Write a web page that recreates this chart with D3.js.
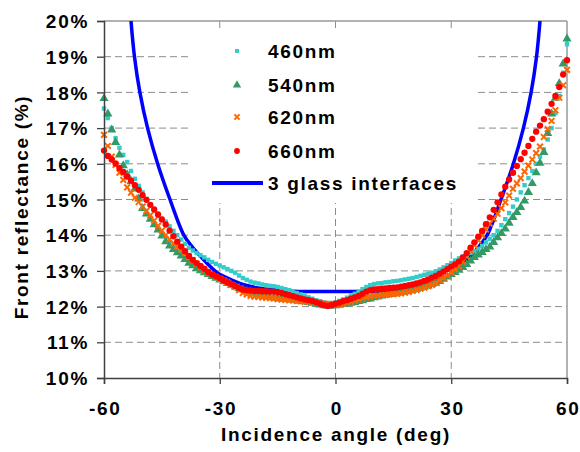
<!DOCTYPE html>
<html><head><meta charset="utf-8">
<script src="https://cdn.jsdelivr.net/npm/d3@7"></script>
<style>
html,body{margin:0;padding:0;background:#fff;}
text{font-family:"Liberation Sans",Arial,sans-serif;font-weight:bold;fill:#000;}
</style></head>
<body><svg id="c" width="580" height="452"></svg>
<script>
// ---- data ----
const angles = d3.range(-60, 61, 1); // measurement angles (deg), one per degree
const s460 = [17.55,17.28,17.00,16.72,16.45,16.25,16.05,15.80,15.58,15.38,15.20,15.02,14.85,14.70,14.55,14.46,14.38,14.25,14.12,14.00,13.88,13.76,13.65,13.57,13.50,13.44,13.38,13.31,13.25,13.20,13.15,13.10,13.05,13.00,12.95,12.87,12.80,12.75,12.70,12.67,12.65,12.62,12.60,12.58,12.57,12.55,12.52,12.49,12.46,12.42,12.38,12.34,12.30,12.26,12.22,12.18,12.15,12.12,12.10,12.10,12.12,12.16,12.20,12.25,12.30,12.36,12.42,12.49,12.55,12.60,12.63,12.65,12.66,12.68,12.69,12.71,12.72,12.74,12.76,12.78,12.80,12.83,12.86,12.89,12.92,12.95,12.99,13.04,13.10,13.16,13.22,13.29,13.35,13.40,13.45,13.50,13.55,13.62,13.70,13.80,13.90,14.00,14.12,14.28,14.45,14.62,14.80,15.00,15.20,15.40,15.60,15.80,16.00,16.20,16.40,16.68,17.00,17.42,17.90,18.55,19.35];
const s540 = [17.83,17.40,16.95,16.60,16.25,15.95,15.70,15.50,15.30,15.02,14.75,14.60,14.45,14.30,14.15,13.98,13.82,13.70,13.60,13.51,13.42,13.32,13.22,13.15,13.07,13.01,12.95,12.90,12.85,12.80,12.75,12.70,12.65,12.60,12.55,12.51,12.47,12.43,12.40,12.37,12.35,12.32,12.30,12.27,12.25,12.23,12.22,12.21,12.20,12.18,12.17,12.15,12.14,12.12,12.10,12.07,12.05,12.03,12.02,12.02,12.03,12.04,12.06,12.08,12.10,12.12,12.15,12.17,12.20,12.22,12.25,12.27,12.30,12.32,12.34,12.36,12.38,12.40,12.42,12.44,12.47,12.49,12.52,12.55,12.58,12.62,12.66,12.71,12.77,12.83,12.90,12.96,13.02,13.10,13.18,13.28,13.38,13.45,13.52,13.60,13.67,13.80,13.93,14.05,14.18,14.34,14.50,14.64,14.78,14.96,15.20,15.45,15.75,16.02,16.32,16.85,17.40,17.84,18.25,18.80,19.50];
const s620 = [16.81,16.50,16.20,15.97,15.75,15.55,15.34,15.19,15.05,14.93,14.80,14.68,14.56,14.41,14.26,14.13,14.00,13.88,13.77,13.68,13.60,13.50,13.40,13.30,13.20,13.11,13.02,12.95,12.88,12.83,12.78,12.73,12.68,12.61,12.55,12.46,12.38,12.34,12.30,12.28,12.27,12.26,12.25,12.24,12.23,12.21,12.20,12.19,12.18,12.17,12.16,12.15,12.14,12.13,12.12,12.11,12.10,12.08,12.07,12.06,12.05,12.06,12.08,12.11,12.14,12.17,12.20,12.23,12.26,12.28,12.30,12.31,12.32,12.33,12.34,12.35,12.36,12.37,12.39,12.41,12.44,12.47,12.50,12.53,12.57,12.61,12.66,12.73,12.80,12.87,12.95,13.04,13.13,13.26,13.40,13.56,13.72,13.86,14.00,14.16,14.32,14.46,14.60,14.76,14.92,15.11,15.30,15.45,15.60,15.78,15.95,16.12,16.30,16.48,16.75,16.97,17.20,17.50,17.85,18.20,18.63];
const s660 = [16.37,16.22,16.12,16.01,15.88,15.77,15.64,15.53,15.40,15.27,15.12,14.99,14.85,14.72,14.58,14.44,14.30,14.13,13.97,13.82,13.68,13.55,13.42,13.31,13.22,13.14,13.06,12.97,12.90,12.85,12.80,12.73,12.68,12.63,12.58,12.52,12.48,12.46,12.45,12.44,12.44,12.43,12.43,12.42,12.42,12.40,12.38,12.35,12.32,12.29,12.26,12.23,12.20,12.18,12.16,12.12,12.08,12.04,12.02,12.04,12.08,12.11,12.15,12.18,12.22,12.26,12.30,12.36,12.42,12.46,12.48,12.49,12.50,12.51,12.52,12.53,12.54,12.56,12.58,12.60,12.62,12.65,12.68,12.72,12.76,12.81,12.86,12.92,12.98,13.05,13.12,13.18,13.26,13.38,13.50,13.65,13.80,13.96,14.12,14.31,14.50,14.71,14.92,15.14,15.36,15.56,15.75,15.94,16.13,16.31,16.50,16.70,16.90,17.07,17.25,17.46,17.68,17.90,18.15,18.50,18.90];
const glassAngle = [-53.0,-52.1,-50.7,-48.7,-46.1,-42.9,-39.3,-37.2,-35.1,-30.8,-28,-24,-20,-15,-11,0,11,15,20,24,28,30.8,35.1,37.2,39.3,42.9,46.1,48.7,50.7,52.1,53.0];
const glassValue = [20,19,18,17,16,15,14,13.68,13.42,12.96,12.8,12.62,12.52,12.46,12.43,12.42,12.43,12.46,12.52,12.62,12.8,12.96,13.42,13.68,14,15,16,17,18,19,20];
const seriesNames = ["460nm","540nm","620nm","660nm"];
const lineName = "3 glass interfaces";
const xTicks = [-60,-30,0,30,60];
const yTicks = [10,11,12,13,14,15,16,17,18,19,20];

// ---- chart ----
const svg = d3.select("#c");
const x = d3.scaleLinear().domain([-60,60]).range([104,567]);
const y = d3.scaleLinear().domain([10,20]).range([378,21]);
const LS = "1.7px";

// grid
const grid = svg.append("g");
grid.selectAll("line.h").data(yTicks.filter(d=>d>10 && d<20)).join("line")
  .attr("x1",x(-60)).attr("x2",x(60)).attr("y1",d=>y(d)).attr("y2",d=>y(d))
  .attr("stroke","#8c8c8c").attr("stroke-width",1).attr("stroke-dasharray","7,4");
grid.selectAll("line.v").data(xTicks.filter(d=>d>-60 && d<60)).join("line")
  .attr("y1",y(20)).attr("y2",y(10)).attr("x1",d=>x(d)).attr("x2",d=>x(d))
  .attr("stroke","#8c8c8c").attr("stroke-width",1).attr("stroke-dasharray","7,4");

// legend background (covers grid)
svg.append("rect").attr("x",190).attr("y",30).attr("width",288).attr("height",173).attr("fill","#fff");

// top/right border
svg.append("line").attr("x1",x(-60)).attr("x2",x(60)).attr("y1",y(20)).attr("y2",y(20)).attr("stroke","#999").attr("stroke-width",1.5);
svg.append("line").attr("x1",x(60)).attr("x2",x(60)).attr("y1",y(20)).attr("y2",y(10)).attr("stroke","#999").attr("stroke-width",1.5);

svg.append("defs").append("clipPath").attr("id","pc").append("rect")
  .attr("x",x(-60)-6).attr("y",y(20)).attr("width",x(60)-x(-60)+12).attr("height",y(10)-y(20));
const plot = svg.append("g").attr("clip-path","url(#pc)");

// theory line
plot.append("path").datum(glassAngle.map((a,i)=>[a,glassValue[i]]))
  .attr("fill","none").attr("stroke","#0000ff").attr("stroke-width",3.5)
  .attr("d", d3.line().x(d=>x(d[0])).y(d=>y(d[1])).curve(d3.curveCatmullRom.alpha(0.5)));

const colors = ["#33cccc","#339966","#ff6600","#ff0000"];
const sym = [d3.symbolSquare, d3.symbolTriangle, d3.symbolCross, d3.symbolCircle];
function marker(g, i, sc){
  if(i===2){
    const s = 2.6*sc;
    g.append("path").attr("d",`M${-s},${-s}L${s},${s}M${-s},${s}L${s},${-s}`)
      .attr("stroke",colors[i]).attr("stroke-width",2).attr("fill","none");
  } else {
    const size = [16,30,0,26][i]*sc*sc;
    g.append("path").attr("d", d3.symbol().type(sym[i]).size(size)()).attr("fill",colors[i]);
  }
}
[s460,s540,s620,s660].forEach((s,i)=>{
  const g = plot.append("g");
  s.forEach((v,j)=>{
    const m = g.append("g").attr("transform",`translate(${x(angles[j])},${y(v)})`);
    marker(m,i,1.1);
  });
});

// axes
const yAxis = svg.append("g").attr("transform",`translate(${x(-60)},0)`)
  .call(d3.axisLeft(y).tickValues(yTicks).tickSize(7).tickPadding(7).tickFormat(d=>d+"%"));
yAxis.select(".domain").attr("stroke","#404040").attr("stroke-width",1.5);
yAxis.selectAll(".tick line").attr("stroke","#404040").attr("stroke-width",1.3);
yAxis.selectAll("text").attr("font-size",19).attr("font-family","Liberation Sans, Arial, sans-serif")
  .attr("font-weight","bold").attr("fill","#000").style("letter-spacing",LS).attr("dx","-1").attr("dy","0.35em").attr("y",0);

const xAxis = svg.append("g").attr("transform",`translate(0,${y(10)})`)
  .call(d3.axisBottom(x).tickValues(xTicks).tickSize(6).tickPadding(18).tickFormat(d=>d));
xAxis.select(".domain").attr("stroke","#404040").attr("stroke-width",1.5);
xAxis.selectAll(".tick line").attr("stroke","#404040").attr("stroke-width",1.3);
xAxis.selectAll("text").attr("font-size",19).attr("font-family","Liberation Sans, Arial, sans-serif")
  .attr("font-weight","bold").attr("fill","#000").style("letter-spacing",LS).attr("dx","0.85");

// axis titles
svg.append("text").attr("x",336).attr("y",441).attr("text-anchor","middle").attr("font-size",19)
  .style("letter-spacing",LS).text("Incidence angle (deg)");
svg.append("text").attr("transform","translate(28,207) rotate(-90)").attr("text-anchor","middle").attr("font-size",19)
  .style("letter-spacing",LS).text("Front reflectance (%)");

// legend
const legY = [51,85,117,151];
seriesNames.forEach((n,i)=>{
  const m = svg.append("g").attr("transform",`translate(237,${legY[i]})`);
  marker(m,i,1.0);
  svg.append("text").attr("x",268).attr("y",legY[i]).attr("dy","0.35em").attr("font-size",19)
    .style("letter-spacing",LS).text(n);
});
svg.append("line").attr("x1",212).attr("x2",263).attr("y1",183).attr("y2",183).attr("stroke","#0000ff").attr("stroke-width",4);
svg.append("text").attr("x",268).attr("y",183).attr("dy","0.35em").attr("font-size",19)
  .style("letter-spacing",LS).text(lineName);
</script></body></html>
